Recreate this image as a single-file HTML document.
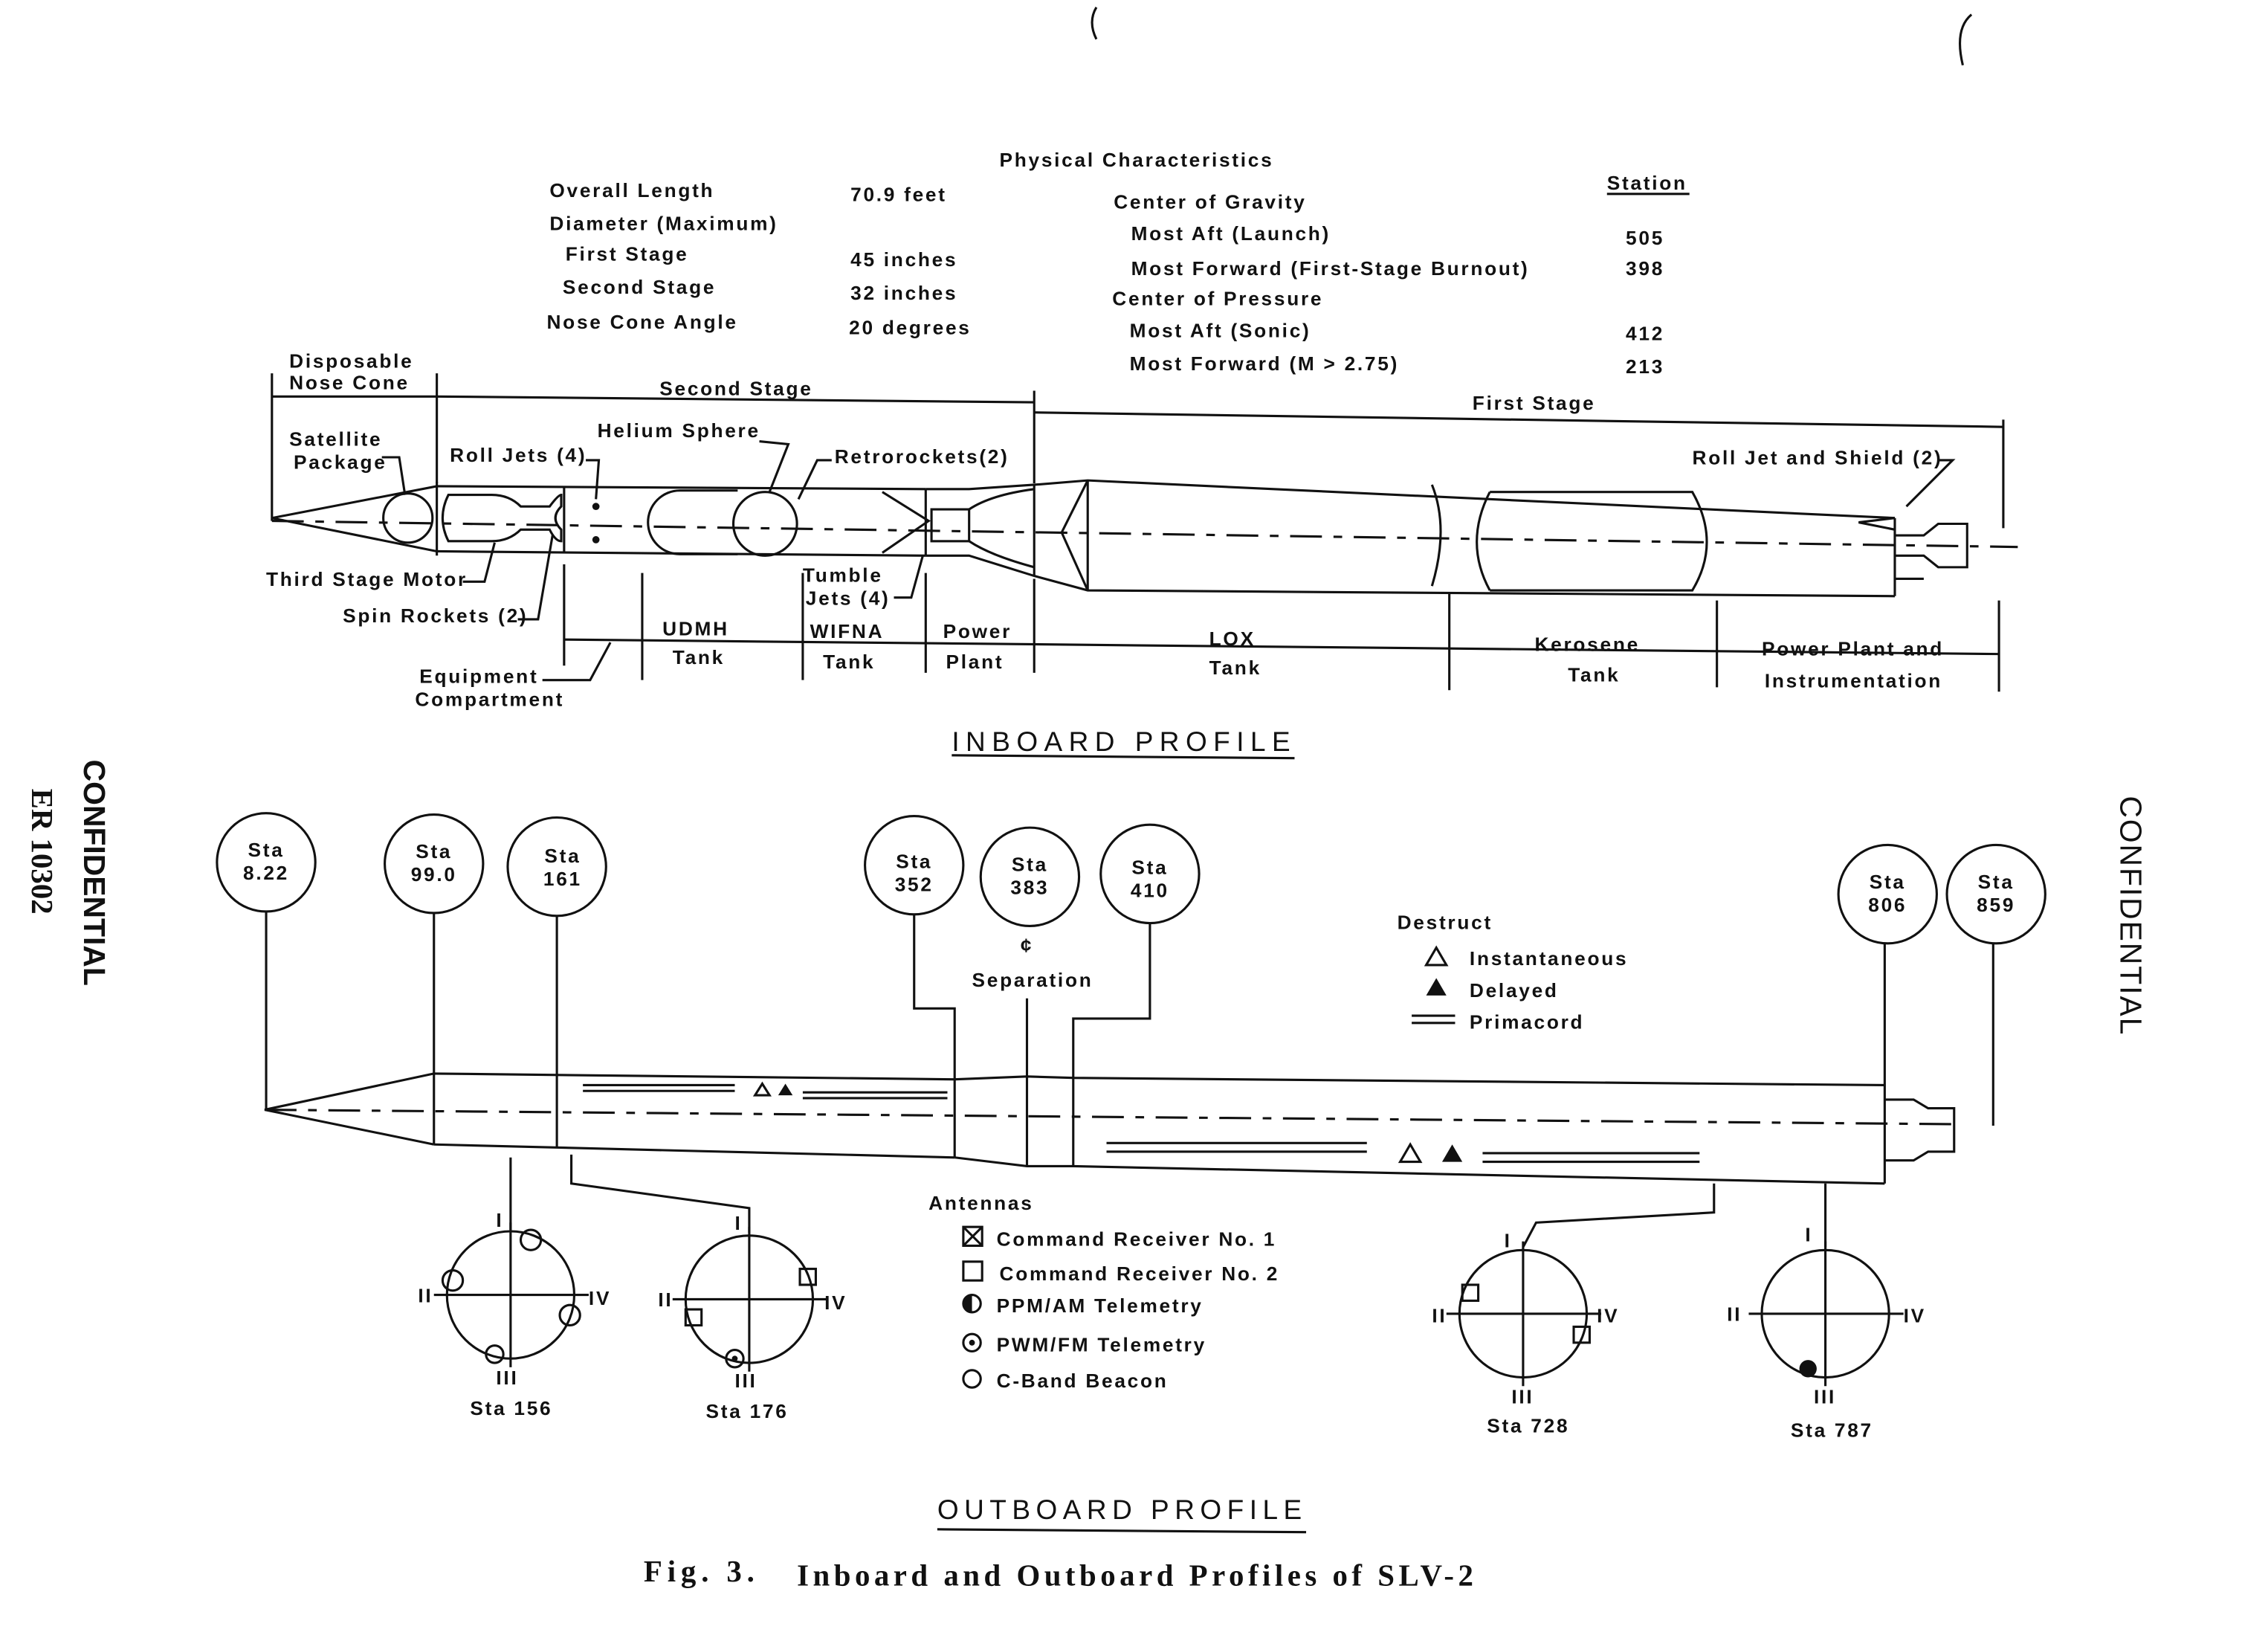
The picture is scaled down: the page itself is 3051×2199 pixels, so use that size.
<!DOCTYPE html>
<html><head><meta charset="utf-8"><style>
html,body{margin:0;padding:0;background:#fff;}
svg{display:block;}
text{font-family:"Liberation Sans",sans-serif;font-weight:bold;fill:#111;font-size:13.5px;letter-spacing:1.4px;}
.s{font-family:"Liberation Serif",serif;}
</style></head><body>
<svg width="3051" height="2199" viewBox="0 0 1568 1130" xmlns="http://www.w3.org/2000/svg">
<rect width="1568" height="1130" fill="#fff"/>
<g stroke="#111" stroke-width="1.6" fill="none">
<line x1="1111" y1="134" x2="1168" y2="134"/>
<polyline points="302,336 188,358 302,381"/>
<line x1="302" y1="333" x2="302" y2="384"/>
<line x1="302" y1="336" x2="640" y2="338"/>
<line x1="302" y1="381" x2="640" y2="384"/>
<line x1="390" y1="337" x2="390" y2="382"/>
<line x1="640" y1="338" x2="640" y2="384"/>
<polyline points="640,338 670,338 715,335 752,332 1310,358"/>
<polyline points="640,384 670,384 715,398 752,408 1310,412"/>
<line x1="715" y1="335" x2="715" y2="398"/>
<line x1="752" y1="332" x2="752" y2="408"/>
<polyline points="752,332 734,368 752,408"/>
<line x1="1310" y1="358" x2="1310" y2="412"/>
<circle cx="282" cy="358" r="17"/>
<path d="M310,342 h30 q12,0 20,8 h20 q6,-8 8,-8 v8 q-8,8 0,16 v8 q-4,0 -8,-8 h-20 q-8,8 -20,8 h-30 q-8,-16 0,-32z"/>
<path d="M470,339 a22,22 0 0 0 0,44 h40 M470,339 h40"/>
<circle cx="529" cy="362" r="22"/>
<path d="M610,340 l32,20 l-32,22"/>
<rect x="644" y="352" width="26" height="22"/>
<path d="M670,352 q15,-10 45,-14 M670,374 q15,10 45,18"/>
<path d="M990,335 q12,30 0,70 M1030,340 q-18,35 0,68 M1030,340 h140 q20,35 0,68 h-140"/>
<path d="M1310,358 l-25,3 l25,5 M1310,370 h20 l10,-8 h20 v30 h-20 l-10,-8 h-20 M1310,400 h20"/>
<line x1="188" y1="360" x2="1395" y2="378" stroke-dasharray="22,8,6,8"/>
<line x1="188" y1="258" x2="188" y2="360"/>
<line x1="188" y1="274" x2="302" y2="274"/>
<line x1="302" y1="258" x2="302" y2="334"/>
<line x1="302" y1="274" x2="715" y2="278"/>
<line x1="715" y1="270" x2="715" y2="334"/>
<line x1="715" y1="285" x2="1385" y2="295"/>
<line x1="1385" y1="290" x2="1385" y2="365"/>
<line x1="390" y1="390" x2="390" y2="460"/>
<line x1="390" y1="442" x2="1382" y2="452"/>
<line x1="444" y1="396" x2="444" y2="470"/>
<line x1="555" y1="396" x2="555" y2="470"/>
<line x1="640" y1="396" x2="640" y2="465"/>
<line x1="715" y1="400" x2="715" y2="465"/>
<line x1="1002" y1="410" x2="1002" y2="477"/>
<line x1="1187" y1="415" x2="1187" y2="475"/>
<line x1="1382" y1="415" x2="1382" y2="478"/>
<polyline points="264,316 276,316 280,342"/>
<polyline points="405,318 414,318 412,345"/>
<polyline points="525,305 545,307 532,340"/>
<polyline points="575,318 565,318 552,345"/>
<polyline points="320,402 335,402 342,375"/>
<polyline points="358,428 372,428 382,370"/>
<polyline points="618,413 630,413 638,384"/>
<polyline points="1340,318 1350,318 1318,350"/>
<polyline points="375,470 408,470 422,444"/>
<line x1="658" y1="522" x2="895" y2="524"/>
<polyline points="300,742 183,767 300,791"/>
<line x1="300" y1="742" x2="660" y2="746"/>
<line x1="300" y1="791" x2="660" y2="800"/>
<line x1="300" y1="742" x2="300" y2="791"/>
<line x1="385" y1="743" x2="385" y2="793"/>
<line x1="660" y1="746" x2="660" y2="800"/>
<polyline points="660,746 710,744 742,745 1303,750"/>
<polyline points="660,800 710,806 742,806 1303,818"/>
<line x1="710" y1="744" x2="710" y2="806"/>
<line x1="742" y1="745" x2="742" y2="806"/>
<line x1="1303" y1="750" x2="1303" y2="818"/>
<path d="M1303,760 h20 l10,6 h18 v30 h-18 l-10,6 h-20"/>
<line x1="183" y1="767" x2="1355" y2="777" stroke-dasharray="22,8,6,8"/>
<path d="M403,750 h105 M403,754 h105 M555,755 h100 M555,759 h100 M765,790 h180 M765,796 h180 M1025,797 h150 M1025,803 h150"/>
<circle cx="184" cy="596" r="34"/><line x1="184" y1="630" x2="184" y2="767"/>
<circle cx="300" cy="597" r="34"/><line x1="300" y1="631" x2="300" y2="742"/>
<circle cx="385" cy="599" r="34"/><line x1="385" y1="633" x2="385" y2="743"/>
<circle cx="632" cy="598" r="34"/><polyline points="632,632 632,697 660,697 660,746"/>
<circle cx="712" cy="606" r="34"/><line x1="710" y1="690" x2="710" y2="744"/>
<circle cx="795" cy="604" r="34"/><polyline points="795,638 795,704 742,704 742,745"/>
<circle cx="1305" cy="618" r="34"/><line x1="1303" y1="652" x2="1303" y2="750"/>
<circle cx="1380" cy="618" r="34"/><line x1="1378" y1="652" x2="1378" y2="778"/>
<polyline points="353,850 353,800"/>
<polyline points="395,798 395,818 518,835 518,852"/>
<polyline points="1053,862 1062,845 1185,838 1185,818"/>
<line x1="1262" y1="862" x2="1262" y2="818"/>
<circle cx="353" cy="895" r="44"/><path d="M300,895 h107 M353,845 v100"/>
<circle cx="518" cy="898" r="44"/><path d="M465,898 h107 M518,848 v100"/>
<circle cx="1053" cy="908" r="44"/><path d="M1000,908 h107 M1053,858 v100"/>
<circle cx="1262" cy="908" r="44"/><path d="M1209,908 h107 M1262,858 v100"/>
<circle cx="367" cy="857" r="7"/><circle cx="313" cy="885" r="7"/><circle cx="394" cy="909" r="7"/><circle cx="342" cy="936" r="6"/>
<rect x="553" y="877" width="11" height="11"/><rect x="474" y="905" width="11" height="11"/><circle cx="508" cy="939" r="6"/>
<rect x="1011" y="888" width="11" height="11"/><rect x="1088" y="917" width="11" height="11"/>
<rect x="666" y="848" width="13" height="13"/><path d="M666,848 l13,13 M679,848 l-13,13"/>
<rect x="666" y="872" width="13" height="13"/>
<circle cx="672" cy="901" r="6"/><circle cx="672" cy="928" r="6"/><circle cx="672" cy="953" r="6"/>
<path d="M986,667 l7,-12 l7,12z"/>
<path d="M976,702 h30 M976,707 h30"/>
<path d="M968,803 l7,-12 l7,12z"/>
<path d="M522,757 l5,-8 l5,8z"/>
<line x1="648" y1="1057" x2="903" y2="1059"/>
<path d="M758,5 q-6,10 0,22 M1363,10 q-12,10 -6,35"/>
</g>
<g fill="#111">
<path d="M986,688 l7,-12 l7,12z"/><path d="M997,803 l7,-12 l7,12z"/><path d="M538,757 l5,-8 l5,8z"/>
<path d="M672,895 a6,6 0 0 0 0,12z"/><circle cx="672" cy="928" r="2"/>
<circle cx="1250" cy="946" r="6"/><circle cx="508" cy="939" r="2"/>
<circle cx="412" cy="350" r="2.5"/><circle cx="412" cy="373" r="2.5"/>
</g>
<text x="691" y="115">Physical Characteristics</text>
<text x="380" y="136">Overall Length</text>
<text x="380" y="159">Diameter (Maximum)</text>
<text x="391" y="180">First Stage</text>
<text x="389" y="203">Second Stage</text>
<text x="378" y="227">Nose Cone Angle</text>
<text x="588" y="139">70.9 feet</text>
<text x="588" y="184">45  inches</text>
<text x="588" y="207">32  inches</text>
<text x="587" y="231">20  degrees</text>
<text x="770" y="144">Center of Gravity</text>
<text x="782" y="166">Most Aft (Launch)</text>
<text x="782" y="190">Most Forward (First-Stage Burnout)</text>
<text x="769" y="211">Center of Pressure</text>
<text x="781" y="233">Most Aft (Sonic)</text>
<text x="781" y="256">Most Forward (M &gt; 2.75)</text>
<text x="1111" y="131">Station</text>
<text x="1124" y="169">505</text><text x="1124" y="190">398</text><text x="1124" y="235">412</text><text x="1124" y="258">213</text>
<text x="200" y="254">Disposable</text><text x="200" y="269">Nose Cone</text>
<text x="456" y="273">Second Stage</text>
<text x="1018" y="283">First Stage</text>
<text x="200" y="308">Satellite</text><text x="203" y="324">Package</text>
<text x="311" y="319">Roll Jets (4)</text>
<text x="413" y="302">Helium Sphere</text>
<text x="577" y="320">Retrorockets(2)</text>
<text x="1170" y="321">Roll Jet and Shield (2)</text>
<text x="184" y="405">Third Stage Motor</text>
<text x="237" y="430">Spin Rockets (2)</text>
<text x="555" y="402">Tumble</text><text x="557" y="418">Jets (4)</text>
<text x="458" y="439">UDMH</text><text x="465" y="459">Tank</text>
<text x="560" y="441">WIFNA</text><text x="569" y="462">Tank</text>
<text x="652" y="441">Power</text><text x="654" y="462">Plant</text>
<text x="836" y="446">LOX</text><text x="836" y="466">Tank</text>
<text x="1061" y="450">Kerosene</text><text x="1084" y="471">Tank</text>
<text x="1218" y="453">Power Plant and</text><text x="1220" y="475">Instrumentation</text>
<text x="290" y="472">Equipment</text><text x="287" y="488">Compartment</text>
<text x="658" y="519" style="font-size:19px;letter-spacing:3px;font-weight:normal" textLength="237">INBOARD PROFILE</text>
<g class="s" text-anchor="middle" style="letter-spacing:0">
<text x="184" y="592">Sta</text><text x="184" y="608">8.22</text>
<text x="300" y="593">Sta</text><text x="300" y="609">99.0</text>
<text x="389" y="596">Sta</text><text x="389" y="612">161</text>
<text x="632" y="600">Sta</text><text x="632" y="616">352</text>
<text x="712" y="602">Sta</text><text x="712" y="618">383</text>
<text x="795" y="604">Sta</text><text x="795" y="620">410</text>
<text x="1305" y="614">Sta</text><text x="1305" y="630">806</text>
<text x="1380" y="614">Sta</text><text x="1380" y="630">859</text>
<text x="710" y="658">¢</text>
</g>
<text x="672" y="682">Separation</text>
<text x="966" y="642">Destruct</text>
<text x="1016" y="667">Instantaneous</text>
<text x="1016" y="689">Delayed</text>
<text x="1016" y="711">Primacord</text>
<text x="642" y="836">Antennas</text>
<text x="689" y="861">Command Receiver No. 1</text>
<text x="691" y="885">Command Receiver No. 2</text>
<text x="689" y="907">PPM/AM Telemetry</text>
<text x="689" y="934">PWM/FM Telemetry</text>
<text x="689" y="959">C-Band Beacon</text>
<g class="s">
<text x="343" y="848">I</text><text x="289" y="900">II</text><text x="407" y="902">IV</text><text x="343" y="957">III</text>
<text x="508" y="850">I</text><text x="455" y="903">II</text><text x="570" y="905">IV</text><text x="508" y="959">III</text>
<text x="1040" y="862">I</text><text x="990" y="914">II</text><text x="1104" y="914">IV</text><text x="1045" y="970">III</text>
<text x="1248" y="858">I</text><text x="1194" y="913">II</text><text x="1316" y="914">IV</text><text x="1254" y="970">III</text>
</g>
<text x="325" y="978">Sta 156</text><text x="488" y="980">Sta 176</text>
<text x="1028" y="990">Sta 728</text><text x="1238" y="993">Sta 787</text>
<text x="648" y="1050" style="font-size:19px;letter-spacing:3px;font-weight:normal" textLength="255">OUTBOARD PROFILE</text>
<text x="445" y="1093" class="s" style="font-size:21px" textLength="78">Fig. 3.</text>
<text x="551" y="1096" class="s" style="font-size:21px" textLength="469">Inboard and Outboard Profiles of SLV-2</text>
<text transform="translate(58,525) rotate(90)" style="font-size:21px;letter-spacing:0">CONFIDENTIAL</text>
<text transform="translate(22,545) rotate(90)" class="s" style="font-size:21px;letter-spacing:0">ER 10302</text>
<text transform="translate(1466,550) rotate(90)" style="font-size:21px;font-weight:normal;letter-spacing:1px">CONFIDENTIAL</text>
</svg>
</body></html>
